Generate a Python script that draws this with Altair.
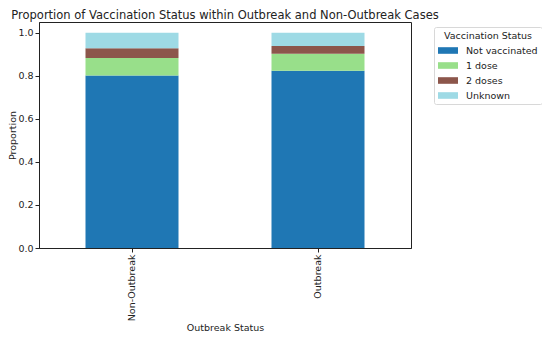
import altair as alt
import pandas as pd

categories = ["Non-Outbreak", "Outbreak"]
statuses = ["Not vaccinated", "1 dose", "2 doses", "Unknown"]
not_vaccinated = [0.801, 0.824]
one_dose = [0.082, 0.079]
two_doses = [0.045, 0.035]
unknown = [0.072, 0.062]
colors = ["#1f77b4", "#98df8a", "#8c564b", "#9edae5"]

series = [not_vaccinated, one_dose, two_doses, unknown]
rows = []
for si, (s, vals) in enumerate(zip(statuses, series)):
    for c, v in zip(categories, vals):
        rows.append({"Outbreak Status": c, "Vaccination Status": s, "Proportion": v, "order": si})
df = pd.DataFrame(rows)

FONT = "DejaVu Sans"
rect_path = "M-2,-0.66L2,-0.66L2,0.66L-2,0.66Z"

chart = alt.Chart(df).mark_bar(size=93).encode(
    x=alt.X("Outbreak Status:N", sort=categories,
            scale=alt.Scale(paddingInner=0.5, paddingOuter=0.25),
            axis=alt.Axis(labelAngle=-90, title="Outbreak Status", labelPadding=2,
                          tickSize=4, titlePadding=2)),
    y=alt.Y("Proportion:Q", stack="zero",
            scale=alt.Scale(domain=[0, 1.05], nice=False),
            axis=alt.Axis(values=[0, 0.2, 0.4, 0.6, 0.8, 1.0], format=".1f",
                          grid=False, tickSize=4, labelPadding=2, titlePadding=0,
                          title="Proportion")),
    color=alt.Color("Vaccination Status:N",
                    scale=alt.Scale(domain=statuses, range=colors),
                    legend=alt.Legend(orient="none", legendX=395, legendY=5,
                                      title="Vaccination Status",
                                      titleFontWeight="normal", titleFontSize=9.5,
                                      titleAnchor="middle",
                                      labelFontSize=9.5, symbolType=rect_path,
                                      symbolSize=100, symbolStrokeWidth=0,
                                      symbolOffset=5,
                                      rowPadding=5, padding=4,
                                      strokeColor="#d8d8d8", cornerRadius=2,
                                      fillColor="white", labelOffset=13,
                                      titlePadding=5)),
    order=alt.Order("order:Q", sort="ascending"),
).properties(
    width=372, height=226,
    title=alt.TitleParams("Proportion of Vaccination Status within Outbreak and Non-Outbreak Cases",
                          anchor="middle", fontSize=11.5, fontWeight="normal", offset=0.5),
    padding={"left": 31, "top": 14, "right": 131, "bottom": 84},
    autosize="none",
).configure(font=FONT).configure_view(
    stroke="#222", strokeWidth=1
).configure_axis(
    labelFont=FONT, titleFont=FONT, labelFontSize=9.5, titleFontSize=9.5,
    labelColor="#222", titleColor="#222", domainColor="#222", tickColor="#222",
    titleFontWeight="normal"
).configure_title(font=FONT, color="#222").configure_legend(
    labelFont=FONT, titleFont=FONT, labelColor="#222", titleColor="#222"
)

chart.save("out.html", embed_options={"renderer": "svg", "actions": False})
